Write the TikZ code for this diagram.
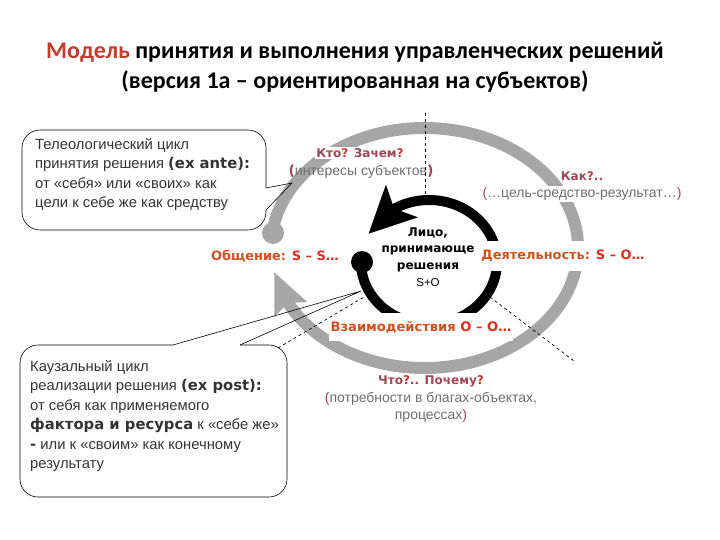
\documentclass[tikz,border=0pt]{standalone}
\usepackage{fontspec}
\setmainfont{Liberation Sans}
\newfontfamily\headfont{Carlito}
\newfontfamily\heavy{DejaVu Sans}
\newcommand\hvy[1]{{\heavy\bfseries #1}}
\usetikzlibrary{arrows.meta,bending}
\definecolor{headred}{HTML}{C43C2C}
\definecolor{ringgray}{HTML}{A6A6A6}
\definecolor{kindred}{HTML}{D4501E}
\definecolor{symred}{HTML}{E42A1A}
\definecolor{askred}{HTML}{9E4654}
\definecolor{qmark}{HTML}{C8392A}
\definecolor{notegray}{HTML}{6E6E6E}

\begin{document}
\begin{tikzpicture}[x=1pt,y=-1pt,
  head/.style={font=\headfont\bfseries\fontsize{24}{30}\selectfont,align=center},
  calltext/.style={anchor=north west,align=left,inner sep=0pt,text=black!80,font=\fontsize{14.8}{19.5}\selectfont},
  callline/.style={line width=0.6pt,rounded corners=18pt},
  relation/.style={fill=white,inner xsep=2pt,inner ysep=3pt,font=\heavy\bfseries\fontsize{12.9}{15}\selectfont,text=kindred},
  ask/.style={inner sep=1pt,font=\heavy\bfseries\fontsize{12}{15}\selectfont,text=askred},
  note/.style={inner sep=1pt,align=center,font=\fontsize{14}{17}\selectfont,text=notegray},
  person/.style={align=center,inner sep=0pt,font=\heavy\bfseries\fontsize{12}{16.7}\selectfont},
  greyring/.style={draw=ringgray,line width=12pt},
  blackring/.style={draw=black,line width=10pt},
  blob/.style={circle,inner sep=0pt,minimum size=22pt},
  guide/.style={dashed,line width=0.7pt}]
\useasboundingbox (0,0) rectangle (720,540);

\node[head] (title) at (355,67) {{\color{headred}Модель} принятия и выполнения управленческих решений\\(версия 1а – ориентированная на субъектов)};

% the two cycles
\draw[greyring,-{Stealth[length=40pt,width=34pt,inset=6pt]}] (424.5,248) ++(187:153.5 and 120) arc (187:528.5:153.5 and 120);
\node[blob,fill=ringgray] (start) at (273,233) {};
\draw[blackring,-{Stealth[length=46pt,width=44pt,inset=10pt]}] (429,262) ++(180:68 and 62) arc (180:-153:68 and 62);
\node[blob,fill=black] (doer) at (362,262) {};

\node[person] (face) at (428,257) {Лицо,\\принимающе\\решения\\{\normalfont\fontsize{11.5}{14}\selectfont S+O}};

\node[relation] (talk) at (275,256) {Общение: \textcolor{symred}{S – S…}};
\node[relation,inner ysep=9pt] (work) at (563,256) {Деятельность: \textcolor{symred}{S – O…}};
\node[relation,inner ysep=8pt,font=\heavy\bfseries\fontsize{13.1}{15}\selectfont] (inter) at (421,327) {Взаимодействия \textcolor{symred}{O – O…}};

\node[ask,fill=white] (who) at (360,153) {Кто\textcolor{qmark}{?} Зачем\textcolor{qmark}{?}};
\node[note] (whonote) at (361,172) {\textcolor{askred}{\hvy{(}}интересы субъектов\textcolor{askred}{\hvy{)}}};
\node[ask] (how) at (582,176) {Как\textcolor{qmark}{?}..};
\node[note,fill=white] (hownote) at (582,194) {\textcolor{askred}{(}…цель-средство-результат…\textcolor{askred}{)}};
\node[ask] (what) at (431,381) {Что\textcolor{qmark}{?}.. Почему\textcolor{qmark}{?}};
\node[note] (whatnote) at (431,407.5) {\textcolor{askred}{(}потребности в благах-объектах,\\процессах\textcolor{askred}{)}};

\coordinate (axistop) at (425,113);
\coordinate (axisend) at (425,199);
\draw[guide] (axistop) -- (axisend);
\coordinate (cutin) at (490,297);
\coordinate (cutout) at (574,361);
\draw[guide] (cutin) -- (cutout);

% callouts
\node[calltext] (ante) at (35,138) {Телеологический цикл\\принятия решения \hvy{(ex ante):}\\от «себя» или «своих» как\\цели к себе же как средству};
\coordinate (antetip) at (292,183);
\draw[callline] (266,188) -- (266,130) -- (22,130) -- (22,230) -- (266,230) -- (266,210);
\draw[line width=0.6pt] (266,188) -- (antetip) -- (266,210);

\node[calltext] (post) at (30,360) {Каузальный цикл\\реализации решения \hvy{(ex post):}\\от себя как применяемого\\\hvy{фактора и ресурса} к «себе же»\\\hvy{-} или к «своим» как конечному\\результату};
\coordinate (posttip) at (361,291);
\coordinate (postedge) at (278,348);
\coordinate (postend) at (364,297);
\draw[callline] (240,345) -- (287,345) -- (287,497) -- (20,497) -- (20,345) -- (173,345);
\draw[line width=0.6pt] (173,345) -- (posttip) -- (240,345);
\draw[guide] (postedge) -- (postend);
\end{tikzpicture}
\end{document}
